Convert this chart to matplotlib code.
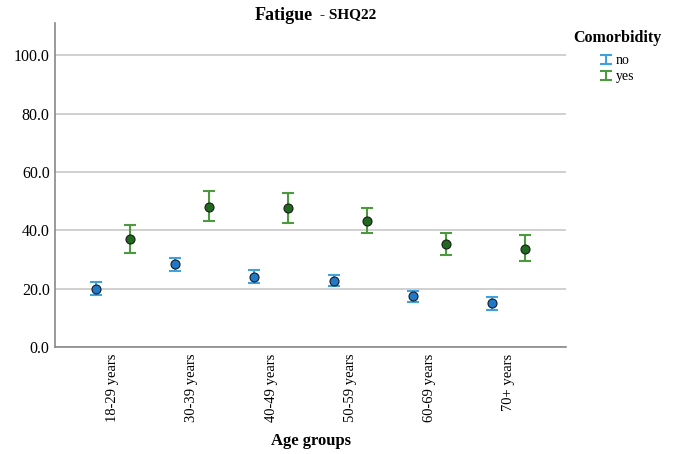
import numpy as np
import matplotlib
matplotlib.use("Agg")
import matplotlib.pyplot as plt
from matplotlib.legend_handler import HandlerErrorbar

age_groups = ["18-29 years", "30-39 years", "40-49 years", "50-59 years", "60-69 years", "70+ years"]

no_mean = [20.0, 28.3, 24.0, 22.6, 17.4, 14.9]
no_upper = [22.3, 30.6, 26.2, 24.7, 19.3, 17.1]
no_lower = [17.7, 26.1, 21.9, 20.7, 15.5, 12.6]

yes_mean = [36.9, 48.1, 47.7, 43.2, 35.3, 33.7]
yes_upper = [41.8, 53.4, 52.8, 47.7, 39.2, 38.2]
yes_lower = [32.1, 43.0, 42.4, 39.0, 31.5, 29.4]

plt.rcParams["font.family"] = ["Liberation Serif", "DejaVu Serif"]

fig = plt.figure(figsize=(6.73, 4.54), dpi=100)
ax = fig.add_axes([0.082, 0.236, 0.759, 0.713])

x = np.arange(len(age_groups))
off = 0.21

def draw(xpos, mean, upper, lower, ecol, fcol, label):
    mean = np.array(mean)
    err = [mean - np.array(lower), np.array(upper) - mean]
    eb = ax.errorbar(xpos, mean, yerr=err, fmt="none", ecolor=ecol, elinewidth=1.5,
                     capsize=4, capthick=1.5, zorder=3, label=label)
    ax.scatter(xpos, mean, s=42, color=fcol, edgecolor="#1a1a1a", linewidth=0.8, zorder=4)
    return eb

h_no = draw(x - off, no_mean, no_upper, no_lower, "#3fa2e0", "#1f78c8", "no")
h_yes = draw(x + off, yes_mean, yes_upper, yes_lower, "#4c9a3e", "#1f6a1f", "yes")

ax.set_ylim(0, 111)
ax.set_xlim(-0.73, len(age_groups) - 1 + 0.73)
ax.set_yticks([0, 20, 40, 60, 80, 100])
ax.set_yticklabels([f"{v:.1f}" for v in [0, 20, 40, 60, 80, 100]], fontsize=11.5)
ax.yaxis.grid(True, color="#c8c8c8", linewidth=1.2, zorder=0)
ax.set_axisbelow(True)
ax.tick_params(axis="y", length=0, pad=4)
ax.tick_params(axis="x", length=0, pad=5)
ax.set_xticks(x)
ax.set_xticklabels(age_groups, rotation=90, fontsize=10.5, va="top")

for s in ["top", "right"]:
    ax.spines[s].set_visible(False)
for s in ["left", "bottom"]:
    ax.spines[s].set_color("#888888")
    ax.spines[s].set_linewidth(1.2)

ax.set_xlabel("Age groups", fontsize=12, fontweight="bold", labelpad=8)

fig.text(0.465, 0.965, "Fatigue", fontsize=13, fontweight="bold", ha="right", va="center")
fig.text(0.475, 0.967, "- SHQ22", fontsize=11, fontweight="bold", ha="left", va="center")

hm = {h_no: HandlerErrorbar(yerr_size=0.32), h_yes: HandlerErrorbar(yerr_size=0.32)}
leg = fig.legend([h_no, h_yes], ["no", "yes"], title="Comorbidity", loc="upper left",
                 bbox_to_anchor=(0.838, 0.955), frameon=False, fontsize=10,
                 handlelength=0.6, handletextpad=0.4, handler_map=hm,
                 labelspacing=0.2, borderpad=0.2)
leg.get_title().set_fontweight("bold")
leg.get_title().set_fontsize(11.5)
leg._legend_box.sep = 6

fig.savefig("out.png", dpi=100)
